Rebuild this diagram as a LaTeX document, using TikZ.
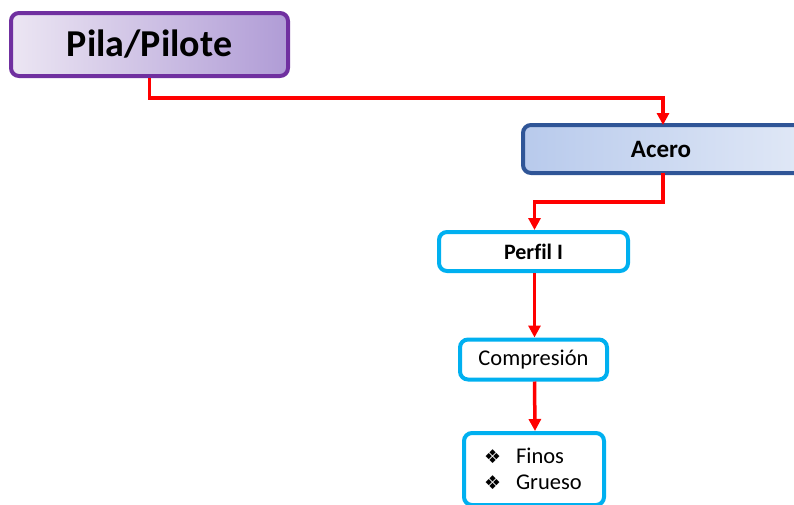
\documentclass[tikz,border=0pt]{standalone}
\usepackage{fontspec}
\setmainfont[Ligatures=NoCommon]{Carlito}
\newfontfamily\symfont{DejaVu Sans}
\usetikzlibrary{arrows.meta}

\definecolor{pilaborder}{HTML}{7030A0}
\definecolor{pilalight}{HTML}{ECE6F3}
\definecolor{piladark}{HTML}{B09CD6}
\definecolor{aceroborder}{HTML}{2F5597}
\definecolor{acerolight}{HTML}{E3EAF7}
\definecolor{acerodark}{HTML}{B8CAEC}
\definecolor{cyanborder}{HTML}{00B0F0}
\definecolor{linkred}{HTML}{FF0000}

\newcommand{\diamondmark}{{\symfont\fontsize{19}{26}\selectfont ❖}}

\tikzset{
  x=1pt, y=-1pt,
  basebox/.style={rectangle, rounded corners=8pt, line width=4pt, align=center,
                  inner sep=0pt, text=black},
  titlebox/.style={basebox, draw=pilaborder, shading=axis, shading angle=60,
                   left color=pilalight, right color=piladark,
                   font=\bfseries\fontsize{38}{40}\selectfont},
  mainbox/.style={basebox, draw=aceroborder, shading=axis, shading angle=75,
                  left color=acerodark, right color=acerolight,
                  font=\bfseries\fontsize{25}{28}\selectfont},
  leafbox/.style={basebox, draw=cyanborder, fill=white,
                  font=\fontsize{22.5}{26}\selectfont},
  link/.style={draw=linkred, line width=3.5pt,
               -{Triangle[length=12pt,width=12pt]}},
}

\begin{document}
\begin{tikzpicture}
\useasboundingbox (0,0) rectangle (794,504);

\node[titlebox, minimum width=277pt, minimum height=63pt] (pila) at (149.5,44.5) {Pila/Pilote};
% the blue box runs past the right edge of the page
\node[mainbox, minimum width=300pt, minimum height=48pt] (acero) at (673,149) {\hspace*{-24pt}Acero};
\coordinate (aceroin) at (663,125);
\coordinate (aceroout) at (663,173);
\node[leafbox, minimum width=189pt, minimum height=39pt, font=\bfseries\fontsize{22}{24}\selectfont] (perfil) at (533.5,251.5) {Perfil I};
\node[leafbox, minimum width=147pt, minimum height=40pt] (comp) at (533.5,359.5) {Compresión};
\node[leafbox, minimum width=140pt, minimum height=72pt, text width=130pt, align=left] (tipos) at (534,469)
  {\hspace*{15pt}\diamondmark\hspace{15pt}Finos\\
   \hspace*{15pt}\diamondmark\hspace{15pt}Grueso};

\draw[link] (pila.south) -- ++(0,20) -| (aceroin);
\draw[link] (aceroout) -- ++(0,29) -| ([xshift=1pt]perfil.north);
\draw[link] ([xshift=1pt]perfil.south) -- ([xshift=1pt]comp.north);
\draw[link] ([xshift=1pt]comp.south) -- ([xshift=1pt]tipos.north);
\end{tikzpicture}
\end{document}
